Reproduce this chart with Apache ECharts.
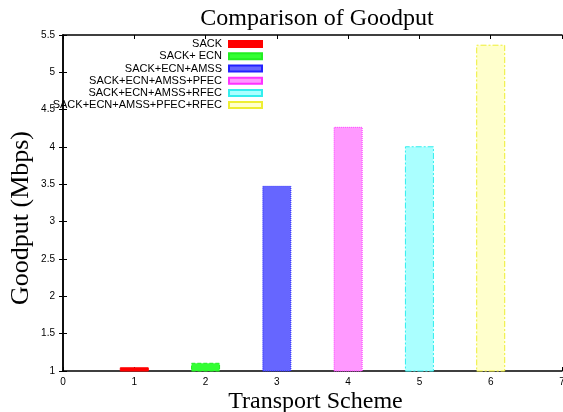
<!DOCTYPE html>
<html><head><meta charset="utf-8">
<script src="https://cdn.jsdelivr.net/npm/echarts@6/dist/echarts.min.js"></script>
<style>html,body{margin:0;padding:0;background:#fff}#c{width:563px;height:412px}</style>
</head><body><div id="c"></div>
<script>
const schemes = ['SACK','SACK+ ECN','SACK+ECN+AMSS','SACK+ECN+AMSS+PFEC','SACK+ECN+AMSS+RFEC','SACK+ECN+AMSS+PFEC+RFEC'];
const xPositions = [1,2,3,4,5,6];
const goodput = [1.05,1.11,3.48,4.27,4.01,5.37];
const fills = ['#ff0000','#33ff33','#6666ff','#ff99ff','#aaffff','#ffffcc'];
const borders = ['#ff0000','#22ee22','#2222ff','#ff33ff','#33eeee','#eeee33'];
const borderTypes = ['solid','dashed','dotted','dotted',[6,2,2,2],[6,2,2,2]];
const xTicks = [0,1,2,3,4,5,6,7];
const yTicks = [1,1.5,2,2.5,3,3.5,4,4.5,5,5.5];

const chart = echarts.init(document.getElementById('c'), null, {renderer:'canvas'});
const series = schemes.map((name,i)=>({
  name, type:'bar', xAxisIndex:0, yAxisIndex:0,
  barWidth:29, barGap:'-100%',
  data:[[xPositions[i], goodput[i]]],
  itemStyle:{color:fills[i], borderColor:borders[i], borderWidth:1, borderType:borderTypes[i]},
  z:1
}));
const lblFont = {fontFamily:'Liberation Sans', fontSize:10, color:'#000'};
chart.setOption({
  animation:false,
  title:{text:'Comparison of Goodput', left:312, top:2, textAlign:'center',
    textStyle:{fontFamily:'Liberation Serif', fontSize:24, fontWeight:'normal', color:'#000'}},
  legend:{orient:'vertical', right:300, top:38, align:'right', icon:'rect', itemWidth:33, itemHeight:6, itemGap:0,
    padding:0,
    textStyle:{fontFamily:'Liberation Sans', fontSize:11, color:'#000', lineHeight:12.2, padding:[0,2,0,0]},
    data:schemes},
  grid:{left:63, right:1, top:35, bottom:41, outerBoundsMode:'none', containLabel:false},
  xAxis:[
    {type:'value', min:0, max:7, interval:1, position:'bottom',
     axisLine:{lineStyle:{color:'#000', width:1.5}},
     axisTick:{inside:true, length:4, lineStyle:{color:'#000'}},
     axisLabel:Object.assign({margin:6, showMaxLabel:true}, lblFont),
     splitLine:{show:false},
     name:'Transport Scheme', nameLocation:'middle', nameGap:19, nameMoveOverlap:false,
     nameTextStyle:{fontFamily:'Liberation Serif', fontSize:24, color:'#000', padding:[0,0,0,6]}},
    {type:'value', min:0, max:7, interval:1, position:'top',
     axisLine:{lineStyle:{color:'#000', width:1.5}},
     axisTick:{inside:true, length:4, lineStyle:{color:'#000'}},
     axisLabel:{show:false}, splitLine:{show:false}}
  ],
  yAxis:[
    {type:'value', min:1, max:5.5, interval:0.5,
     axisLine:{lineStyle:{color:'#000', width:1.5}},
     axisTick:{inside:true, length:4, lineStyle:{color:'#000'}},
     axisLabel:Object.assign({margin:8, formatter:v=>String(Math.round(v*10)/10)}, lblFont),
     splitLine:{show:false},
     name:'Goodput (Mbps)', nameLocation:'middle', nameGap:29, nameRotate:90, nameMoveOverlap:false,
     nameTextStyle:{fontFamily:'Liberation Serif', fontSize:26, color:'#000', padding:[0,30,0,0]}},
    {type:'value', min:1, max:5.5, interval:0.5, position:'right',
     axisLine:{lineStyle:{color:'#000', width:1.5}},
     axisTick:{inside:true, length:4, lineStyle:{color:'#000'}},
     axisLabel:{show:false}, splitLine:{show:false}}
  ],
  series
});
</script></body></html>
